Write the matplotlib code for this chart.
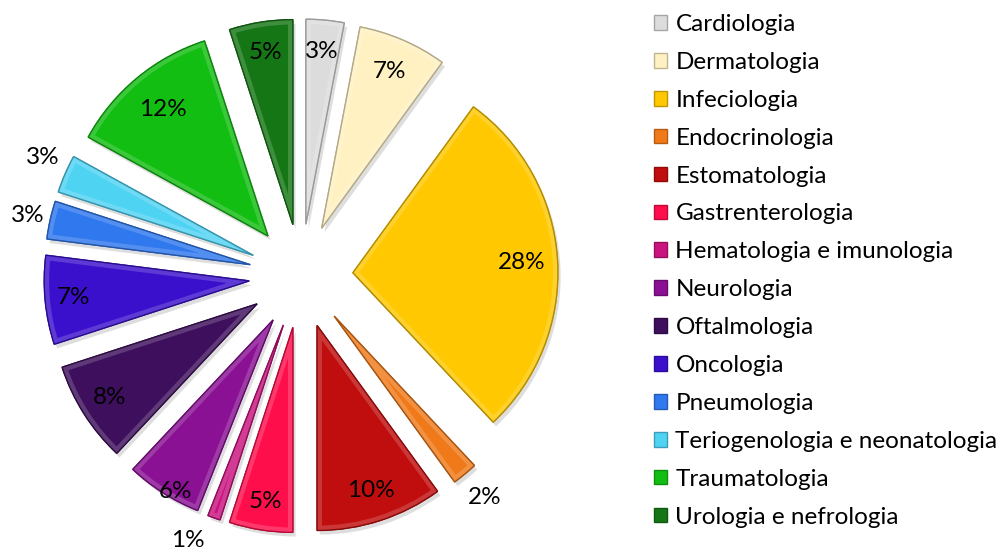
import numpy as np
import matplotlib
matplotlib.use("Agg")
import matplotlib.pyplot as plt
import matplotlib.patheffects as pe
from matplotlib.patches import Wedge
from matplotlib.colors import to_rgb

# ---- data ----
categories = ["Cardiologia", "Dermatologia", "Infeciologia", "Endocrinologia",
              "Estomatologia", "Gastrenterologia", "Hematologia e imunologia",
              "Neurologia", "Oftalmologia", "Oncologia", "Pneumologia",
              "Teriogenologia e neonatologia", "Traumatologia",
              "Urologia e nefrologia"]
percent = [3, 7, 28, 2, 10, 5, 1, 6, 8, 7, 3, 3, 12, 5]
colors = ["#DCDCDC", "#FFF1C2", "#FFC800", "#F07A1A", "#C00D0D", "#FF0E4C",
          "#C9137F", "#8A1094", "#3D0F5C", "#3B10CC", "#2F78EE", "#4FD3F3",
          "#12BE12", "#157615"]

# ---- layout (pixels) ----
W, H = 1005, 553
CX, CY = 301, H - 276
R = 205
EXPL = 52          # pixels (matplotlib explode is in data units)
label_dist = [0.845, 0.835, 0.825, 1.15, 0.845, 0.86, 1.15, 0.965, 0.85,
              0.86, 1.11, 1.13, 0.80, 0.85]
label_dang = [0, 0, 0, 0, 0, 0, -4, 2.7, 0, 0, 0, -1.5, 0, 0]

plt.rcParams['font.family'] = ['Lato', 'DejaVu Sans']
FS = 17.5

fig = plt.figure(figsize=(W / 100, H / 100), dpi=100)
ax = fig.add_axes([0, 0, 1, 1])

def mix(c, other, f):
    a = np.array(to_rgb(c)); b = np.array(to_rgb(other))
    return tuple(a * (1 - f) + b * f)

wedges, _ = ax.pie(percent, colors=colors, startangle=90, counterclock=False,
                   center=(CX, CY), radius=R, explode=[EXPL] * len(percent),
                   frame=True, wedgeprops=dict(linewidth=1.0))
for w, c in zip(wedges, colors):
    w.set_edgecolor(mix(c, "black", 0.25))
    w.set_path_effects([pe.SimplePatchShadow(offset=(2, -3), shadow_rgbFace=(0.3, 0.3, 0.3), alpha=0.18),
                        pe.Normal()])
    # bevel-like inner rim
    rim = Wedge(w.center, w.r, w.theta1, w.theta2, facecolor="none",
                edgecolor=mix(c, "white", 0.35), linewidth=7, alpha=0.5, zorder=w.zorder + 0.1)
    ax.add_patch(rim)
    rim.set_clip_path(w)
    edge = Wedge(w.center, w.r, w.theta1, w.theta2, facecolor="none",
                 edgecolor=mix(c, "black", 0.3), linewidth=0.9, zorder=w.zorder + 0.2)
    ax.add_patch(edge)

for w, p, d, da in zip(wedges, percent, label_dist, label_dang):
    ang = np.deg2rad((w.theta1 + w.theta2) / 2 + da)
    x = w.center[0] + d * R * np.cos(ang)
    y = w.center[1] + d * R * np.sin(ang)
    ax.text(x, y, f"{p}%", ha="center", va="center", fontsize=FS, color="black", zorder=10)

ax.set_xlim(0, W)
ax.set_ylim(0, H)
ax.set_aspect("equal")
ax.axis("off")

leg = ax.legend(wedges, categories, loc="upper left",
                bbox_to_anchor=(637 / W, 1 + 3 / H), frameon=False,
                fontsize=FS, handlelength=0.55, handleheight=0.55,
                handletextpad=0.33, labelspacing=0.695, borderpad=0.2)
for h in leg.legend_handles:
    h.set_path_effects([])

fig.savefig("out.png", dpi=100)
